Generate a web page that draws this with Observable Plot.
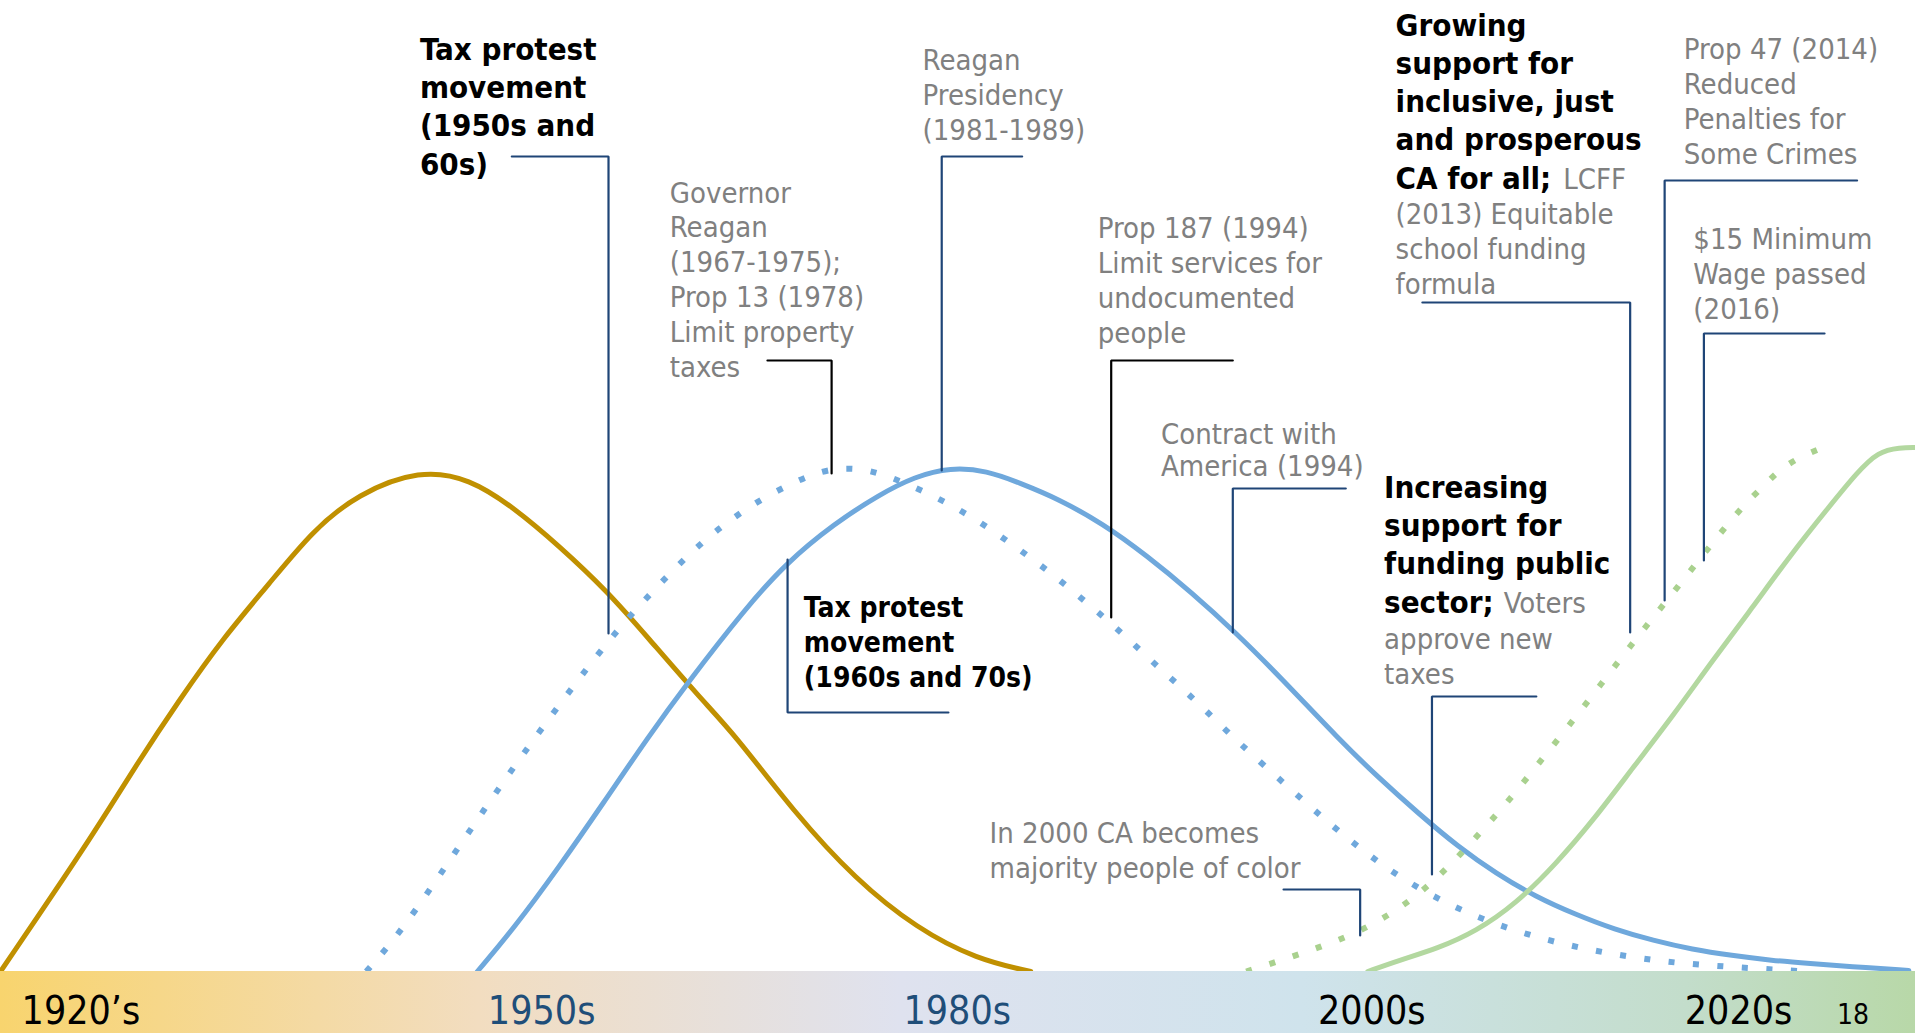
<!DOCTYPE html>
<html>
<head>
<meta charset="utf-8">
<script src="https://cdn.jsdelivr.net/npm/d3@7"></script>
<script src="https://cdn.jsdelivr.net/npm/@observablehq/plot@0.6"></script>
<style>
  html, body { margin: 0; padding: 0; background: #ffffff; }
  #chart svg { display: block; }
</style>
</head>
<body>
<div id="chart"></div>
<script>
// x = position along the timeline (% of width); y = level of support (0 = baseline, 100 = peak)

// Era labels on the timeline band
const eraLabels = ["1920’s", "1950s", "1980s", "2000s", "2020s"];
const eraPos = [1.1, 25.45, 47.15, 68.8, 87.95];
const pageNumber = "18";

// Curves
const goldCurve = [[0,0],[4.65,26.2],[7.0,40.8],[9.35,54.4],[11.65,66.8],[14.0,77.4],[16.3,88.2],[18.65,95.5],[21.9,100.4],[24.5,98.6],[26.8,92.8],[29.15,85.2],[31.7,76.0],[33.8,66.8],[36.55,54.6],[38.3,47.6],[41.45,31.8],[44.65,18.4],[47.85,8.6],[51.0,2.4],[53.8,0]];
const blueDotted = [[19.1,0],[20.9,7.8],[23.7,23.6],[26.5,39.4],[29.45,54.8],[31.75,66.2],[33.4,73.4],[36.0,83.8],[37.95,90.0],[40.0,95.2],[42.3,99.4],[43.55,100.6],[44.8,100.6],[46.05,99.6],[48.4,95.8],[50.65,91.2],[52.7,85.8],[54.7,80.2],[56.65,74.0],[58.55,67.8],[60.35,61.2],[62.25,54.8],[64.05,48.0],[64.95,44.8],[68.65,32.0],[70.6,25.8],[72.6,20.0],[74.8,15.0],[77.0,11.0],[79.35,7.8],[81.85,5.2],[84.3,3.4],[86.75,2.0],[89.2,1.2],[91.75,0.6],[94.3,0]];
const blueSolid = [[24.9,0],[26.8,8.6],[29.15,20.8],[31.5,33.8],[33.8,46.8],[35.85,57.6],[38.9,72.6],[41.0,81.6],[43.55,89.6],[45.9,95.4],[47.75,99.0],[49.6,100.8],[51.5,100.2],[53.3,97.6],[55.2,94.6],[57.55,89.6],[59.85,83.2],[62.2,75.8],[64.55,67.6],[66.85,58.8],[69.9,46.4],[71.95,38.8],[74.05,31.6],[76.1,25.0],[78.1,19.6],[80.15,15.0],[82.25,11.4],[84.3,8.4],[86.3,6.2],[88.35,4.4],[90.4,3.2],[92.5,2.2],[94.5,1.6],[96.55,1.0],[99.65,0.2]];
const greenDotted = [[65.05,0],[66.85,2.2],[68.7,4.6],[71.05,8.0],[73.25,13.0],[75.15,19.0],[76.9,26.2],[78.6,33.4],[80.15,40.8],[81.7,48.2],[83.25,55.8],[84.8,63.6],[86.3,70.8],[87.9,78.4],[89.45,86.0],[91.05,93.4],[92.0,96.8],[92.85,100.2],[93.9,102.8],[95.05,104.6]];
const greenSolid = [[71.4,0],[73.0,2.2],[75.05,4.6],[77.05,8.0],[79.15,13.6],[81.2,21.4],[83.25,30.6],[85.25,40.8],[87.35,51.2],[89.4,62.2],[91.45,72.6],[93.45,83.2],[95.5,93.0],[96.95,99.8],[98.05,104.0],[99.2,104.8],[100,104.8]];

// Leader lines from annotations to the curves
const blueLeaders = [
  [[26.7,163],[31.75,163],[31.75,67.6]],
  [[53.35,163],[49.15,163],[49.15,100.2]],
  [[70.25,96.6],[64.35,96.6],[64.35,67.8]],
  [[41.1,82.4],[41.1,51.8],[49.5,51.8]],
  [[74.25,133.8],[85.1,133.8],[85.1,67.8]],
  [[96.95,158.2],[86.9,158.2],[86.9,74.2]],
  [[95.25,127.6],[88.95,127.6],[88.95,82.2]],
  [[80.2,55],[74.75,55],[74.75,19.4]],
  [[67.0,16.4],[71.0,16.4],[71.0,7.2]]
];
const blackLeaders = [
  [[40.05,122.2],[43.4,122.2],[43.4,99.6]],
  [[64.35,122.2],[58.0,122.2],[58.0,70.8]]
];

// Annotations (x = left edge, y = baseline of last line)
const grayNotes = [
  {text: "Governor\nReagan\n(1967-1975);\nProp 13 (1978)\nLimit property\ntaxes", x: 34.95, y: 119},
  {text: "Reagan\nPresidency\n(1981-1989)", x: 48.15, y: 166.4},
  {text: "Prop 187 (1994)\nLimit services for\nundocumented\npeople", x: 57.3, y: 125.8},
  {text: "Prop 47 (2014)\nReduced\nPenalties for\nSome Crimes", x: 87.9, y: 161.6},
  {text: "$15 Minimum\nWage passed\n(2016)", x: 88.4, y: 130.6},
  {text: "(2013) Equitable\nschool funding\nformula", x: 72.85, y: 135.6},
  {text: "approve new\ntaxes", x: 72.25, y: 57.6},
  {text: "In 2000 CA becomes\nmajority people of color", x: 51.65, y: 18.8},
  {text: "LCFF", x: 81.6, y: 156.6},
  {text: "Voters", x: 78.5, y: 71.8}
];
const contractNote = [{text: "Contract with\nAmerica (1994)", x: 60.6, y: 99.2}];
const boldNotes = [
  {text: "Tax protest\nmovement\n(1950s and\n60s)", x: 21.9, y: 159.4},
  {text: "Growing\nsupport for\ninclusive, just\nand prosperous\nCA for all;", x: 72.85, y: 156.6},
  {text: "Increasing\nsupport for\nfunding public\nsector;", x: 72.25, y: 71.8}
];
const boldNotesSmall = [
  {text: "Tax protest\nmovement\n(1960s and 70s)", x: 41.95, y: 57}
];

const FONT = "'DejaVu Sans Condensed', 'DejaVu Sans', sans-serif";
const bandData = [{x1: 0, x2: 100, y1: -12.4, y2: 0}];
const NAVY = "#1F4577";

const leaderMarks = [
  ...blueLeaders.map(pts => Plot.line(pts, {x: d => d[0], y: d => d[1], stroke: NAVY, strokeWidth: 2.2, strokeLinejoin: "miter"})),
  ...blackLeaders.map(pts => Plot.line(pts, {x: d => d[0], y: d => d[1], stroke: "#000000", strokeWidth: 2.2, strokeLinejoin: "miter"}))
];

const chart = Plot.plot({
  width: 1915,
  height: 1033,
  margin: 0,
  style: {fontFamily: FONT, fontStretch: "condensed", background: "#ffffff", overflow: "visible"},
  x: {domain: [0, 100], range: [0, 1915], axis: null},
  y: {domain: [0, 100], range: [971, 471], axis: null},
  color: {domain: eraLabels, range: ["#000000", "#1F4E79", "#1F4E79", "#000000", "#000000"]},
  marks: [
    Plot.line(goldCurve, {x: d => d[0], y: d => d[1], stroke: "#C09000", strokeWidth: 5, curve: "basis"}),
    Plot.line(blueDotted, {x: d => d[0], y: d => d[1], stroke: "#6FA8DC", strokeWidth: 6, strokeDasharray: "6 18.5", strokeLinecap: "butt", curve: "basis"}),
    Plot.line(blueSolid, {x: d => d[0], y: d => d[1], stroke: "#6FA8DC", strokeWidth: 5, curve: "basis"}),
    Plot.line(greenDotted, {x: d => d[0], y: d => d[1], stroke: "#A9D18E", strokeWidth: 6, strokeDasharray: "6 18.5", strokeLinecap: "butt", curve: "basis"}),
    Plot.line(greenSolid, {x: d => d[0], y: d => d[1], stroke: "#B3D8A0", strokeWidth: 5, curve: "basis"}),
    Plot.rect(bandData, {x1: "x1", x2: "x2", y1: "y1", y2: "y2", fill: "url(#bandGradient)"}),
    ...leaderMarks,
    Plot.text(grayNotes, {x: "x", y: "y", text: "text", textAnchor: "start", lineAnchor: "bottom", lineHeight: 1.2, fontSize: 29, fill: "#808080", fontFamily: FONT}),
    Plot.text(contractNote, {x: "x", y: "y", text: "text", textAnchor: "start", lineAnchor: "bottom", lineHeight: 1.1, fontSize: 29, fill: "#808080", fontFamily: FONT}),
    Plot.text(boldNotes, {x: "x", y: "y", text: "text", textAnchor: "start", lineAnchor: "bottom", lineHeight: 1.23, fontSize: 31, fontWeight: "bold", fill: "#000000", fontFamily: FONT}),
    Plot.text(boldNotesSmall, {x: "x", y: "y", text: "text", textAnchor: "start", lineAnchor: "bottom", lineHeight: 1.25, fontSize: 28, fontWeight: "bold", fill: "#000000", fontFamily: FONT}),
    Plot.text(eraLabels, {x: (d, i) => eraPos[i], y: -10.5, text: d => d, fill: d => d, textAnchor: "start", lineAnchor: "bottom", fontSize: 39, fontFamily: FONT}),
    Plot.text([pageNumber], {x: 95.9, y: -10.5, text: d => d, textAnchor: "start", lineAnchor: "bottom", fontSize: 28, fill: "#000000", fontFamily: FONT})
  ]
});

// gradient for the timeline band
const svgSel = d3.select(chart);
const defs = svgSel.insert("defs", ":first-child");
const grad = defs.append("linearGradient").attr("id", "bandGradient").attr("x1", "0%").attr("x2", "100%").attr("y1", "0%").attr("y2", "0%");
[["0%", "#F8D46E"], ["25%", "#F2DDC0"], ["47%", "#DFE2EF"], ["68%", "#CFE3EC"], ["88%", "#C3DDCB"], ["100%", "#B8D8A8"]]
  .forEach(([o, c]) => grad.append("stop").attr("offset", o).attr("stop-color", c));

document.getElementById("chart").appendChild(chart);
</script>
</body>
</html>
